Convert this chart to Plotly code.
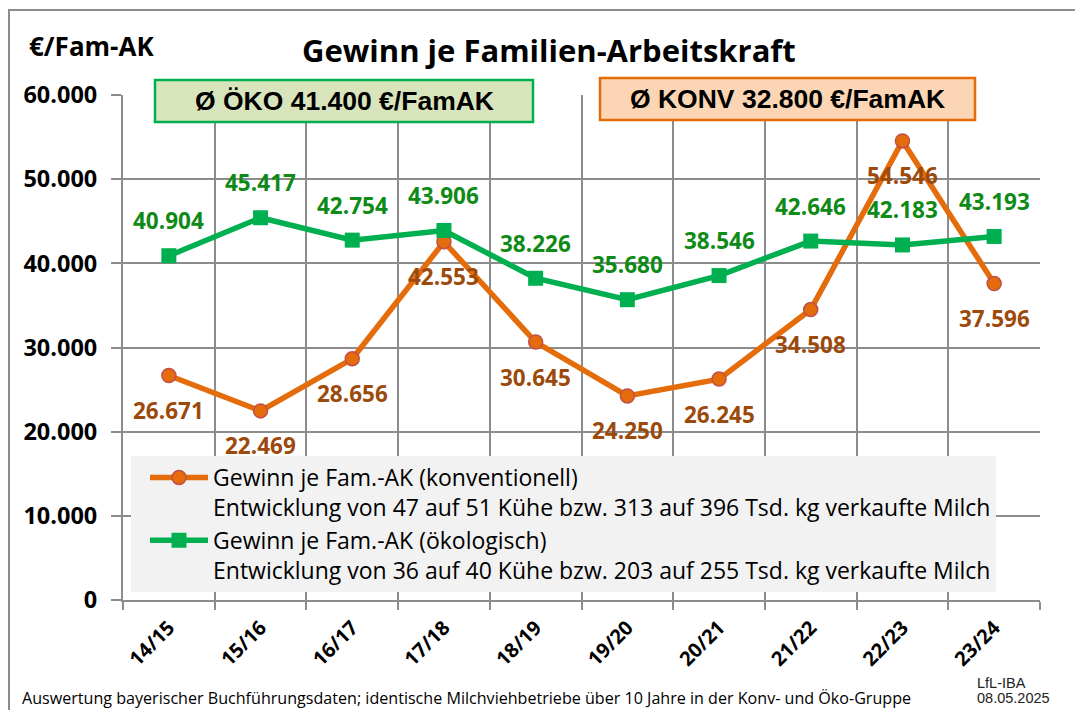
import plotly.graph_objects as go

# ---- data ----
years = ["14/15", "15/16", "16/17", "17/18", "18/19", "19/20", "20/21", "21/22", "22/23", "23/24"]
konv = [26671, 22469, 28656, 42553, 30645, 24250, 26245, 34508, 54546, 37596]
oeko = [40904, 45417, 42754, 43906, 38226, 35680, 38546, 42646, 42183, 43193]
y_ticks = [0, 10000, 20000, 30000, 40000, 50000, 60000]

konv_name = "Gewinn je Fam.-AK (konventionell)<br>Entwicklung von 47 auf 51 Kühe bzw. 313 auf 396 Tsd. kg verkaufte Milch"
oeko_name = "Gewinn je Fam.-AK (ökologisch)<br>Entwicklung von 36 auf 40 Kühe bzw. 203 auf 255 Tsd. kg verkaufte Milch"

# ---- geometry helpers (reference pixel -> paper) ----
OFF = 8  # default page body margin
W, H = 1083 - OFF, 710 - OFF
L, R, T, B = 123, 1040, 95, 600
def px(x):
    return (x - L) / (R - L)
def py(y):
    return (B - y) / (B - T)

CAL = "Open Sans, Lato, sans-serif"
ARI = "Liberation Sans, Arial, sans-serif"
GRID = "#8C8C8C"
ORANGE = "#E46C0A"
GREEN = "#00B050"
KLAB = "#9C4A0C"
GLAB = "#0E8A16"
LABEL_SHIFT = 35

fig = go.Figure()
fig.add_trace(go.Scatter(
    x=years, y=konv, mode="lines+markers", name=konv_name,
    line=dict(color=ORANGE, width=5.5),
    marker=dict(symbol="circle", size=14, color=ORANGE, line=dict(color="#C0504D", width=1.5)),
))
fig.add_trace(go.Scatter(
    x=years, y=oeko, mode="lines+markers", name=oeko_name,
    line=dict(color=GREEN, width=5.5),
    marker=dict(symbol="square", size=15, color=GREEN),
))

def fmt(v):
    return f"{v:,}".replace(",", ".")

annotations = []
for c, v in zip(years, konv):
    annotations.append(dict(x=c, y=v, xref="x", yref="y", text=fmt(v),
                            showarrow=False, yshift=-LABEL_SHIFT,
                            font=dict(family=CAL, size=22.5, color=KLAB, weight="bold")))
for c, v in zip(years, oeko):
    annotations.append(dict(x=c, y=v, xref="x", yref="y", text=fmt(v),
                            showarrow=False, yshift=LABEL_SHIFT,
                            font=dict(family=CAL, size=22.5, color=GLAB, weight="bold")))

# titles and notes
annotations += [
    dict(x=px(549), y=py(50), xref="paper", yref="paper", text="<b>Gewinn je Familien-Arbeitskraft</b>",
         showarrow=False, xanchor="center", yanchor="middle", font=dict(family=CAL, size=31, color="black")),
    dict(x=px(27), y=py(46), xref="paper", yref="paper", text="<b>€/Fam-AK</b>",
         showarrow=False, xanchor="left", yanchor="middle", font=dict(family=CAL, size=26, color="black")),
    dict(x=px(344), y=py(101), xref="paper", yref="paper", text="<b>Ø ÖKO 41.400 €/FamAK</b>",
         showarrow=False, xanchor="center", yanchor="middle", font=dict(family=ARI, size=26.5, color="black")),
    dict(x=px(787), y=py(99), xref="paper", yref="paper", text="<b>Ø KONV 32.800 €/FamAK</b>",
         showarrow=False, xanchor="center", yanchor="middle", font=dict(family=ARI, size=26.5, color="black")),
    dict(x=px(20), y=py(698), xref="paper", yref="paper",
         text="Auswertung bayerischer Buchführungsdaten; identische Milchviehbetriebe über 10 Jahre in der Konv- und Öko-Gruppe",
         showarrow=False, xanchor="left", yanchor="middle", font=dict(family=CAL, size=16.1, color="black")),
    dict(x=px(975), y=py(683), xref="paper", yref="paper", text="LfL-IBA",
         showarrow=False, xanchor="left", yanchor="middle", font=dict(family=ARI, size=14.5, color="#222222")),
    dict(x=px(975), y=py(698), xref="paper", yref="paper", text="08.05.2025",
         showarrow=False, xanchor="left", yanchor="middle", font=dict(family=ARI, size=14.5, color="#222222")),
]

shapes = [
    dict(type="rect", xref="paper", yref="paper", x0=px(9), x1=px(1095), y0=py(730), y1=py(10),
         line=dict(color=GRID, width=2), fillcolor="rgba(0,0,0,0)", layer="below"),
    dict(type="rect", xref="paper", yref="paper", x0=px(155), x1=px(533), y0=py(122), y1=py(80),
         line=dict(color=GREEN, width=2.5), fillcolor="#D8E4BC", layer="above"),
    dict(type="rect", xref="paper", yref="paper", x0=px(600), x1=px(975), y0=py(120), y1=py(78),
         line=dict(color=ORANGE, width=2.5), fillcolor="#FCD5B4", layer="above"),
]

fig.update_layout(
    width=W, height=H,
    margin=dict(l=L - OFF, r=W - (R - OFF), t=T - OFF, b=H - (B - OFF)),
    paper_bgcolor="white", plot_bgcolor="white",
    separators=",.",
    font=dict(family=CAL, color="black"),
    showlegend=True,
    legend=dict(x=px(131), y=py(456), xanchor="left", yanchor="top", bgcolor="#F2F2F2",
                font=dict(family=CAL, size=23, color="black"), valign="top",
                itemwidth=58, indentation=14, tracegroupgap=0, traceorder="normal"),
    annotations=annotations,
    shapes=shapes,
)
fig.update_xaxes(
    type="category", tickson="boundaries", showgrid=True, gridcolor=GRID, gridwidth=2,
    showline=True, linecolor=GRID, linewidth=2, ticks="outside", ticklen=8, tickcolor=GRID, tickwidth=2,
    tickangle=-45, tickfont=dict(family=CAL, size=20, color="black", weight="bold"),
    range=[-0.5, 9.5], zeroline=False, ticklabelstandoff=6,
)
fig.update_yaxes(
    range=[0, 60000], tickvals=y_ticks, tickformat=",d", showgrid=True, gridcolor=GRID, gridwidth=2,
    showline=True, linecolor=GRID, linewidth=2, ticks="outside", ticklen=10, tickcolor=GRID, tickwidth=2,
    tickfont=dict(family=CAL, size=23.5, color="black", weight="bold"), zeroline=False,
    ticklabelstandoff=9,
)

fig.write_html("out.html")
